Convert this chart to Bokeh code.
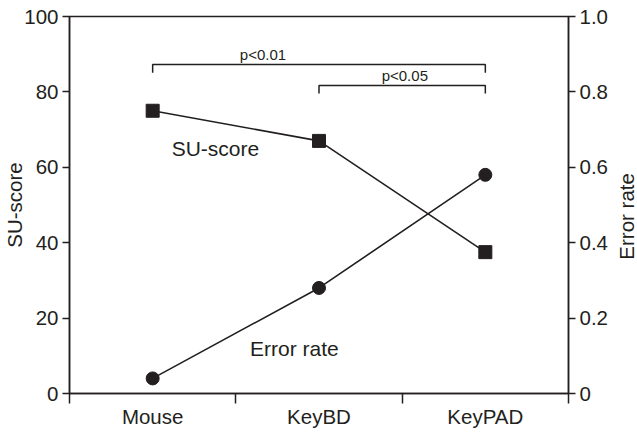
import math
from bokeh.plotting import figure
from bokeh.layouts import row
from bokeh.models import Range1d, LinearAxis, FixedTicker, Label
from bokeh.core.properties import value
from bokeh.embed import file_html
from bokeh.resources import INLINE

# ---- data ----
categories = ["Mouse", "KeyBD", "KeyPAD"]
su_score = [75.0, 67.0, 37.5]
error_rate = [0.04, 0.28, 0.58]
left_ticks = [0, 20, 40, 60, 80, 100]
right_ticks = [0, 0.2, 0.4, 0.6, 0.8, 1.0]
right_tick_labels = ["0", "0.2", "0.4", "0.6", "0.8", "1.0"]
sig_labels = ["p<0.01", "p<0.05"]
sig_pairs = [("Mouse", "KeyPAD"), ("KeyBD", "KeyPAD")]
left_title = "SU-score"
right_title = "Error rate"

INK = "#231f20"
FONT = "Liberation Sans"
TICK_FS = "20.5px"

xpos = {c: i + 0.5 for i, c in enumerate(categories)}
xs = [xpos[c] for c in categories]

p = figure(width=613, height=432, output_backend="svg", toolbar_location=None,
           x_range=Range1d(0, len(categories)), y_range=Range1d(0, 100),
           min_border_left=65, min_border_right=45, min_border_top=16, min_border_bottom=39)
p.extra_y_ranges = {"err": Range1d(0, 1.0)}
p.xgrid.visible = False
p.ygrid.visible = False
p.outline_line_color = INK
p.outline_line_width = 1.5
p.background_fill_color = "white"
p.border_fill_color = "white"

# x axis: labels at category centres, ticks at boundaries
xa = p.xaxis[0]
xa.ticker = FixedTicker(ticks=xs, minor_ticks=list(range(len(categories) + 1)))
xa.major_label_overrides = {x: c for x, c in zip(xs, categories)}
xa.major_tick_line_color = None
xa.major_tick_out = 0
xa.major_tick_in = 0
xa.minor_tick_in = 0
xa.minor_tick_out = 10
xa.minor_tick_line_color = INK
xa.minor_tick_line_width = 1.5
xa.axis_line_color = INK
xa.axis_line_width = 1.5
xa.major_label_text_font = FONT
xa.major_label_text_font_size = TICK_FS
xa.major_label_text_color = INK
xa.major_label_standoff = 1

ya = p.yaxis[0]
ya.ticker = FixedTicker(ticks=left_ticks, minor_ticks=[])
ya.axis_label = left_title
ya.axis_label_text_font = FONT
ya.axis_label_text_font_size = TICK_FS
ya.axis_label_text_font_style = "normal"
ya.axis_label_text_color = INK
ya.axis_label_standoff = -5
ya.major_label_text_font = FONT
ya.major_label_text_font_size = TICK_FS
ya.major_label_text_color = INK
ya.major_label_standoff = 4
ya.major_tick_in = 0
ya.major_tick_out = 7
ya.major_tick_line_width = 1.5
ya.major_tick_line_color = INK
ya.minor_tick_line_color = None
ya.axis_line_color = INK
ya.axis_line_width = 1.5

ra = LinearAxis(y_range_name="err")
ra.ticker = FixedTicker(ticks=right_ticks, minor_ticks=[])
ra.major_label_overrides = {t: s for t, s in zip(right_ticks, right_tick_labels)}
ra.major_label_text_font = FONT
ra.major_label_text_font_size = TICK_FS
ra.major_label_text_color = INK
ra.major_label_standoff = 4
ra.major_tick_in = 0
ra.major_tick_out = 7
ra.major_tick_line_width = 1.5
ra.major_tick_line_color = INK
ra.minor_tick_line_color = None
ra.axis_line_color = INK
ra.axis_line_width = 1.5
p.add_layout(ra, "right")

# series
p.line(xs, su_score, line_color=INK, line_width=1.6)
p.scatter(xs, su_score, marker="square", size=13, fill_color=INK, line_color=INK)
p.line(xs, error_rate, line_color=INK, line_width=1.6, y_range_name="err")
p.scatter(xs, error_rate, marker="circle", size=13, fill_color=INK, line_color=INK, y_range_name="err")

# significance brackets (annotation levels in SU-score units)
levels = [87.3, 81.7]
drops = [2.2, 2.1]
bx, by = [], []
for (a, b), lv, d in zip(sig_pairs, levels, drops):
    bx.append([xpos[a], xpos[a], xpos[b], xpos[b]])
    by.append([lv - d, lv, lv, lv - d])
p.multi_line(bx, by, line_color=INK, line_width=1.5)

label_x = [1.163, 2.016]
for txt, lx, lv in zip(sig_labels, label_x, levels):
    p.add_layout(Label(x=lx, y=lv + 0.3, text=txt, text_align="center", text_baseline="bottom",
                       text_font=FONT, text_font_size="15px", text_color=INK))

p.add_layout(Label(x=0.614, y=65, text="SU-score", text_align="left", text_baseline="middle",
                   text_font=FONT, text_font_size="21px", text_color=INK))
p.add_layout(Label(x=1.085, y=12, text="Error rate", text_align="left", text_baseline="middle",
                   text_font=FONT, text_font_size="21px", text_color=INK))

# right-hand axis title, reading bottom-to-top, in a slim companion panel
p2 = figure(width=24, height=432, output_backend="svg", toolbar_location=None,
            x_range=Range1d(0, 24), y_range=Range1d(-10.34, 104.24),
            x_axis_location=None, y_axis_location=None,
            min_border_left=0, min_border_right=0, min_border_top=0, min_border_bottom=0)
p2.grid.visible = False
p2.outline_line_color = None
p2.border_fill_color = "white"
p2.text(x=[12.5], y=[43.5], text=[right_title], angle=math.pi / 2, text_align="center",
        text_baseline="middle", text_font=value(FONT), text_font_size=TICK_FS, text_color=INK)

layout = row(p, p2, spacing=0)
open("out.html", "w").write(file_html(layout, INLINE))
